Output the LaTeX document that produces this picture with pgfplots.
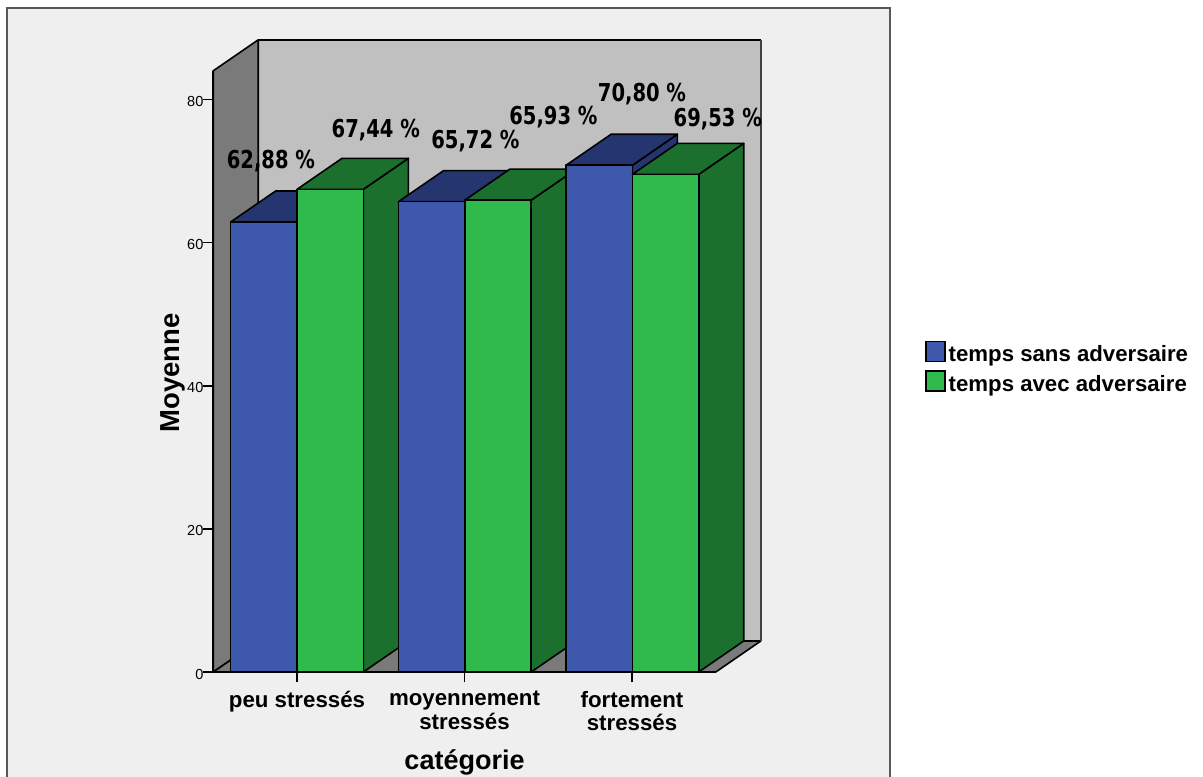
\documentclass[border=0pt]{standalone}
\usepackage{pgfplots}
\usepackage{fontspec}
\pgfplotsset{compat=1.18}
\setmainfont{Liberation Sans}
\newfontfamily\valuefont[FakeStretch=0.88]{DejaVu Sans Condensed}

\definecolor{panel}{HTML}{EFEFEF}
\definecolor{panelline}{HTML}{595959}
\definecolor{backwall}{HTML}{C0C0C0}
\definecolor{sidewall}{HTML}{7A7A7A}
\definecolor{bluefront}{HTML}{3E58AC}
\definecolor{bluetop}{HTML}{25356F}
\definecolor{greenfront}{HTML}{2FBA4B}
\definecolor{greentop}{HTML}{1C702E}

% depth of the oblique projection, in data units
\def\depthx{0.2687}
\def\depthy{4.332}
\def\barw{0.396}
\def\edgew{1.2pt}

% one oblique bar: left edge, value, front colour, top and side colour
\newcommand{\obliquebar}[4]{%
  \pgfmathsetmacro{\xr}{#1+\barw}%
  \pgfmathsetmacro{\xlb}{#1+\depthx}%
  \pgfmathsetmacro{\xrb}{\xr+\depthx}%
  \pgfmathsetmacro{\vb}{#2+\depthy}%
  \edef\doplot{%
    \noexpand\addplot[forget plot,fill=#4,draw=black,line width=\edgew,line join=round]
      coordinates {(\xr,0) (\xrb,\depthy) (\xrb,\vb) (\xr,#2)} --cycle;
    \noexpand\addplot[forget plot,fill=#4,draw=black,line width=\edgew,line join=round]
      coordinates {(#1,#2) (\xlb,\vb) (\xrb,\vb) (\xr,#2)} --cycle;
    \noexpand\addplot[forget plot,fill=#3,draw=black,line width=\edgew,line join=round]
      coordinates {(#1,0) (#1,#2) (\xr,#2) (\xr,0)} --cycle;
  }\doplot
}

% value label above a bar: bar centre, value, text, shift in pt
\newcommand{\valuelabel}[5]{%
  \node[font=\valuefont\bfseries\fontsize{18.5}{20}\selectfont,text=black,
        xshift=#4pt+0.2pt,yshift=#5pt-1.8pt,inner sep=0pt] at (axis cs:#1,#2) {#3};
}

\begin{document}
\begin{tikzpicture}
  \path[use as bounding box] (0pt,0pt) rectangle (902.25pt,-582.75pt);
  \begin{scope}[x=0.75pt,y=-0.75pt]
    \fill[white] (0,0) rectangle (1203,777);
    \fill[panel] (7,8) rectangle (890,778);
    \draw[panelline,line width=1.6pt] (7,778) -- (7,8) -- (890,8) -- (890,778);
  \end{scope}

  \begin{axis}[
    at={(159.94pt,-504pt)}, anchor=south west,
    scale only axis, width=376.9pt, height=450.9pt,
    xmin=0.5, xmax=3.5, ymin=0, ymax=84,
    clip=false,
    axis x line*=bottom, axis y line*=left,
    axis line style={black,line width=\edgew,-},
    xtick={1,2,3},
    xticklabels={peu stressés,{moyennement\\stressés},{fortement\\stressés}},
    ytick={0,20,40,60,80},
    tick align=outside,
    x tick style={black,line width=\edgew},
    y tick style={black,line width=\edgew},
    major tick length=7.8pt,
    /pgf/number format/assume math mode=true,
    yticklabel style={font=\fontsize{10.9}{12}\selectfont,inner sep=0pt,xshift=0.6pt,yshift=-1.5pt},
    xticklabel style={font=\bfseries\fontsize{16.7}{17.6}\selectfont,align=center,inner sep=0pt,yshift=-6.5pt},
    xlabel={catégorie},
    ylabel={Moyenne},
    xlabel style={font=\bfseries\fontsize{20.25}{24}\selectfont,at={(axis description cs:0.5,0)},anchor=center,yshift=-67.5pt},
    ylabel style={font=\bfseries\fontsize{20.6}{24}\selectfont,at={(axis description cs:0,0.5)},anchor=center,yshift=30.5pt,xshift=-1pt},
    legend style={draw=none,fill=none,at={(534pt,248.4pt)},anchor=north west,
      inner sep=0pt,outer sep=0pt,cells={anchor=west},
      font=\bfseries\fontsize{16.65}{18}\selectfont,row sep=2.7pt},
    legend cell align=left,
  ]
    % walls and floor of the chart box
    \addplot[forget plot,fill=backwall,draw=none]
      coordinates {(0.7687,4.332) (0.7687,88.332) (3.7687,88.332) (3.7687,4.332)} --cycle;
    \addplot[forget plot,fill=sidewall,draw=black,line width=\edgew,line join=round]
      coordinates {(0.5,0) (0.5,84) (0.7687,88.332) (0.7687,4.332)} --cycle;
    \addplot[forget plot,fill=sidewall,draw=black,line width=\edgew,line join=round]
      coordinates {(0.5,0) (0.7687,4.332) (3.7687,4.332) (3.5,0)} --cycle;
    \addplot[forget plot,draw=black,line width=\edgew] coordinates {(0.7687,88.332) (3.7687,88.332)};
    \addplot[forget plot,draw=black!75,line width=\edgew] coordinates {(3.7687,88.332) (3.7687,4.332)};

    % bars, group by group, back faces first
    \obliquebar{0.604}{62.88}{bluefront}{bluetop}
    \obliquebar{1.0}{67.44}{greenfront}{greentop}
    \obliquebar{1.606}{65.72}{bluefront}{bluetop}
    \obliquebar{2.002}{65.93}{greenfront}{greentop}
    \obliquebar{2.606}{70.80}{bluefront}{bluetop}
    \obliquebar{3.002}{69.53}{greenfront}{greentop}

    \valuelabel{0.798}{62.88}{62,88 \%}{5.6}{47.2}
    \valuelabel{1.194}{67.44}{67,44 \%}{34.5}{46.5}
    \valuelabel{1.801}{65.72}{65,72 \%}{33}{47.2}
    \valuelabel{2.198}{65.93}{65,93 \%}{41.6}{63.8}
    \valuelabel{2.804}{70.80}{70,80 \%}{31.9}{55.5}
    \valuelabel{3.2}{69.53}{69,53 \%}{39}{43.5}

    % legend swatches
    \addlegendimage{legend image code/.code={
      \draw[black,fill=bluefront,line width=\edgew] (0pt,-4.8pt) rectangle (14.4pt,10pt);},
      legend image post style={}}
    \addlegendentry{temps sans adversaire}
    \addlegendimage{legend image code/.code={
      \draw[black,fill=greenfront,line width=\edgew] (0pt,-4.8pt) rectangle (14.4pt,10pt);}}
    \addlegendentry{temps avec adversaire}
  \end{axis}
\end{tikzpicture}
\end{document}
